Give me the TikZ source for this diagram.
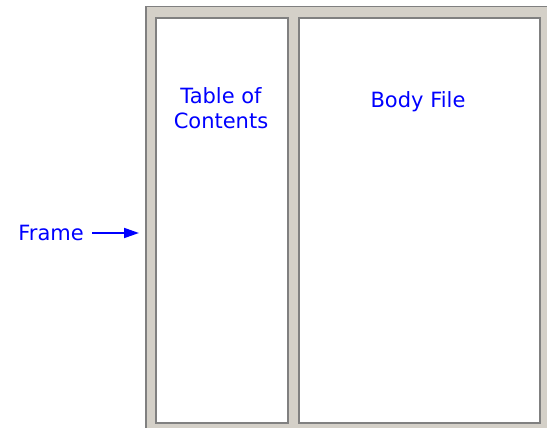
\documentclass[tikz,border=0pt]{standalone}
\usepackage{fontspec}
\setmainfont{DejaVu Sans}
\usetikzlibrary{arrows.meta,positioning}
\definecolor{framegray}{HTML}{D4D0C8}
\definecolor{edgegray}{HTML}{808080}
\definecolor{textblue}{HTML}{0000FF}

\begin{document}
\begin{tikzpicture}[x=1pt, y=-1pt,
    pane/.style={draw=edgegray, line width=2pt, fill=white, inner sep=0pt, anchor=north west},
    caption/.style={text=textblue, font=\fontsize{21}{25}\selectfont, inner sep=0pt, align=center},
    pointer/.style={-{Triangle[length=15pt,width=10pt]}, draw=textblue, line width=1.8pt}
]
\useasboundingbox (0,0) rectangle (547,428);
% outer frame
\fill[framegray] (145,6) rectangle (547,428);
\draw[edgegray, line width=1.5pt] (145.75,428) -- (145.75,6.75) -- (547,6.75);

% the two panes
\node[pane, minimum width=132pt, minimum height=405pt] (toc) at (155,17) {};
\node[pane, minimum width=241pt, minimum height=405pt] (body) at (298,17) {};

\node[caption, anchor=north] (toclbl) at (221,87) {Table of\\Contents};
\node[caption, anchor=north] (bodylbl) at (418,91) {Body File};

% pointer to the frame
\node[caption, anchor=east] (framelbl) at (84,233) {Frame};
\coordinate (framewest) at (139,233);
\draw[pointer, shorten <=8pt] (framelbl.east) -- (framewest);
\end{tikzpicture}
\end{document}
